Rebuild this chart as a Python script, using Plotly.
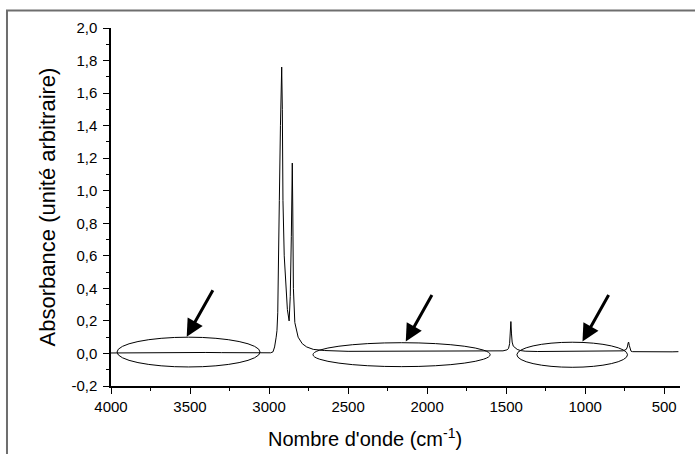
import plotly.graph_objects as go

# ---- Spectrum data ----
wavenumber = [4000, 3900, 3800, 3700, 3600, 3500, 3400, 3300, 3200, 3100, 3050, 3000, 2990,
              2975, 2965, 2955, 2950, 2945, 2940, 2935, 2928, 2920, 2916, 2912, 2904, 2894,
              2884, 2873, 2866, 2859, 2853, 2850, 2846, 2837, 2826, 2816, 2790, 2762, 2720,
              2650, 2500, 2300, 2200, 2000, 1800, 1650, 1560, 1520, 1495, 1485, 1478, 1473,
              1470, 1466, 1462, 1455, 1445, 1430, 1410, 1380, 1300, 1200, 1100, 1000, 900,
              800, 760, 740, 733, 728, 725, 721, 716, 710, 700, 650, 600, 550, 500, 450, 410]
absorbance = [0.003, 0.004, 0.004, 0.005, 0.005, 0.006, 0.006, 0.005, 0.004, 0.003, 0.003, 0.003, 0.004,
              0.01, 0.04, 0.10, 0.14, 0.25, 0.50, 0.94, 1.40, 1.76, 1.50, 0.94, 0.60, 0.40,
              0.27, 0.20, 0.35, 0.72, 1.17, 0.90, 0.40, 0.19, 0.13, 0.10, 0.06, 0.04, 0.025,
              0.018, 0.013, 0.013, 0.015, 0.016, 0.014, 0.013, 0.014, 0.016, 0.022, 0.03, 0.06, 0.15,
              0.196, 0.12, 0.07, 0.045, 0.035, 0.025, 0.018, 0.014, 0.012, 0.013, 0.014, 0.014, 0.013,
              0.014, 0.016, 0.025, 0.04, 0.065, 0.07, 0.05, 0.025, 0.014, 0.011, 0.010, 0.011, 0.012, 0.011, 0.010, 0.011]

y_tick_vals = [-0.2, 0.0, 0.2, 0.4, 0.6, 0.8, 1.0, 1.2, 1.4, 1.6, 1.8, 2.0]
y_tick_text = ["-0,2", "0,0", "0,2", "0,4", "0,6", "0,8", "1,0", "1,2", "1,4", "1,6", "1,8", "2,0"]
x_tick_vals = [4000, 3500, 3000, 2500, 2000, 1500, 1000, 500]
x_tick_text = ["4000", "3500", "3000", "2500", "2000", "1500", "1000", "500"]

# highlighted baseline regions (ellipses): x0, x1, y0, y1 in data units
ellipse_x0 = [3962, 2722, 1432]
ellipse_x1 = [3057, 1601, 732]
ellipse_y0 = [-0.083, -0.081, -0.085]
ellipse_y1 = [0.100, 0.066, 0.069]
# arrow tips (data units)
arrow_x = [3521, 2135, 1017]
arrow_y = [0.103, 0.073, 0.073]

FONT = "Liberation Sans, Arial, sans-serif"

fig = go.Figure()
fig.add_trace(go.Scatter(x=wavenumber, y=absorbance, mode="lines",
                         line=dict(color="black", width=1), showlegend=False,
                         hoverinfo="skip"))

for x0, x1, y0, y1 in zip(ellipse_x0, ellipse_x1, ellipse_y0, ellipse_y1):
    fig.add_shape(type="circle", xref="x", yref="y", x0=x0, x1=x1, y0=y0, y1=y1,
                  line=dict(color="black", width=1), fillcolor="rgba(0,0,0,0)")

for ax_, ay_ in zip(arrow_x, arrow_y):
    fig.add_annotation(x=ax_, y=ay_, xref="x", yref="y", text="", showarrow=True,
                       ax=27, ay=-48, arrowhead=2, arrowsize=1.15, arrowwidth=3,
                       arrowcolor="black", standoff=0)

# outer frame (left and top edges of the original figure box)
fig.add_shape(type="path", xref="paper", yref="paper",
              path="M -0.1828,-0.2 L -0.1828,1.0489 L 1.1,1.0489",
              line=dict(color="#6e6e6e", width=2))

# x-axis title
fig.add_annotation(x=(365 - 111) / 569, y=(386 - 437) / 358, xref="paper", yref="paper",
                   text="Nombre d'onde (cm<sup>-1</sup>)", showarrow=False,
                   font=dict(family=FONT, size=20, color="black"), yanchor="middle")

fig.update_layout(
    width=695, height=454,
    margin=dict(l=111, r=15, t=28, b=68),
    paper_bgcolor="white", plot_bgcolor="white",
    font=dict(family=FONT, color="black"),
    xaxis=dict(range=[4000, 400], tickvals=x_tick_vals, ticktext=x_tick_text,
               ticks="outside", ticklen=6, tickwidth=1, tickcolor="black",
               showline=True, linecolor="black", linewidth=1.5, showgrid=False,
               zeroline=False, tickfont=dict(family=FONT, size=15, color="black"),
               minor=dict(dtick=250, tick0=0, ticks="outside", ticklen=3,
                          tickcolor="black", showgrid=False)),
    yaxis=dict(range=[-0.2, 2.0], tickvals=y_tick_vals, ticktext=y_tick_text,
               ticks="outside", ticklen=6, tickwidth=1, tickcolor="black",
               showline=True, linecolor="black", linewidth=1.5, showgrid=False,
               zeroline=False, tickfont=dict(family=FONT, size=15, color="black"),
               ticklabelstandoff=3,
               title=dict(text="Absorbance (unité arbitraire)",
                          font=dict(family=FONT, size=22, color="black"), standoff=10),
               minor=dict(dtick=0.1, tick0=0, ticks="outside", ticklen=3,
                          tickcolor="black", showgrid=False)),
)

fig.write_html("out.html")
